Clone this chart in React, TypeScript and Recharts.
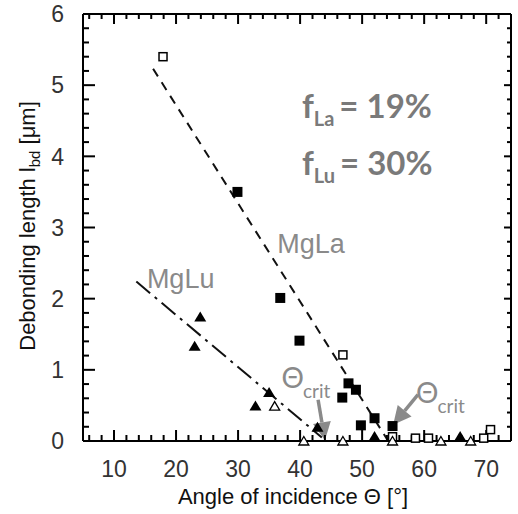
import React from 'react';
import { ScatterChart, Scatter, XAxis, YAxis, ReferenceLine, ReferenceDot } from 'recharts';

// ---- axes ----
const xDomain = [5, 74];
const yDomain = [0, 6];
const xMajorTicks = [10, 20, 30, 40, 50, 60, 70];
const yMajorTicks = [0, 1, 2, 3, 4, 5, 6];
const xMinorTicks = [6, 8, 12, 14, 16, 18, 22, 24, 26, 28, 32, 34, 36, 38, 42, 44, 46, 48, 52, 54, 56, 58, 62, 64, 66, 68, 72, 74];
const yMinorTicks = [0.2, 0.4, 0.6, 0.8, 1.2, 1.4, 1.6, 1.8, 2.2, 2.4, 2.6, 2.8, 3.2, 3.4, 3.6, 3.8, 4.2, 4.4, 4.6, 4.8, 5.2, 5.4, 5.6, 5.8];

// ---- data: MgLa (squares) ----
const mgLaFilled = [
  { x: 29.9, y: 3.5 }, { x: 36.8, y: 2.01 }, { x: 39.9, y: 1.41 },
  { x: 46.8, y: 0.61 }, { x: 47.8, y: 0.81 }, { x: 49.0, y: 0.72 },
  { x: 49.8, y: 0.22 }, { x: 52.0, y: 0.32 }, { x: 54.9, y: 0.21 },
];
const mgLaOpen = [
  { x: 17.9, y: 5.4 }, { x: 46.9, y: 1.21 }, { x: 54.9, y: 0.06 },
  { x: 58.6, y: 0.04 }, { x: 60.7, y: 0.04 }, { x: 69.6, y: 0.04 }, { x: 70.7, y: 0.16 },
];
// ---- data: MgLu (triangles) ----
const mgLuFilled = [
  { x: 23.0, y: 1.34 }, { x: 23.9, y: 1.75 }, { x: 32.8, y: 0.5 },
  { x: 35.0, y: 0.69 }, { x: 42.8, y: 0.2 }, { x: 52.0, y: 0.07 }, { x: 65.8, y: 0.07 },
];
const mgLuOpen = [
  { x: 35.9, y: 0.49 }, { x: 40.6, y: 0 }, { x: 46.9, y: 0 },
  { x: 54.9, y: 0 }, { x: 62.7, y: 0 }, { x: 67.5, y: 0 },
];
// ---- fitted trend lines ----
const mgLaFit = [{ x: 16.3, y: 5.23 }, { x: 54.2, y: 0 }];
const mgLuFit = [{ x: 13.6, y: 2.24 }, { x: 43.5, y: 0.05 }];
// ---- critical-angle arrows ----
const critArrow1 = [{ x: 42.9, y: 0.58 }, { x: 44.0, y: 0.01 }];
const critArrow2 = [{ x: 59.0, y: 0.65 }, { x: 55.0, y: 0.23 }];
// ---- annotation anchors ----
const labelMgLa = { x: 36.3, y: 2.64, text: 'MgLa' };
const labelMgLu = { x: 15.3, y: 2.15, text: 'MgLu' };
const fracLa = { x: 40.3, y: 4.54, sub: 'La', value: '= 19%' };
const fracLu = { x: 40.3, y: 3.74, sub: 'Lu', value: '= 30%' };
const crit1 = { x: 37.0, y: 0.745 };
const crit2 = { x: 58.7, y: 0.534 };

const SANS = '"Liberation Sans", Arial, Helvetica, sans-serif';
const CAL = 'Lato, "Open Sans", sans-serif';
const GRAY = '#8a8a8a';

const W = 518;
const H = 514;
const M = { top: 13, right: 6, bottom: 72, left: 82 };

// tick anchor points on the four frame sides (drawn through the chart scales)
const bottomMajor = xMajorTicks.map((v) => ({ x: v, y: yDomain[0] }));
const bottomMinor = xMinorTicks.map((v) => ({ x: v, y: yDomain[0] }));
const topMajor = xMajorTicks.map((v) => ({ x: v, y: yDomain[1] }));
const topMinor = xMinorTicks.map((v) => ({ x: v, y: yDomain[1] }));
const leftMajor = yMajorTicks.map((v) => ({ x: xDomain[0], y: v }));
const leftMinor = yMinorTicks.map((v) => ({ x: xDomain[0], y: v }));
const rightMajor = yMajorTicks.map((v) => ({ x: xDomain[1], y: v }));
const rightMinor = yMinorTicks.map((v) => ({ x: xDomain[1], y: v }));

const tickMark = (dx: number, dy: number) => (p: any) => (
  <line x1={p.cx} y1={p.cy} x2={p.cx + dx} y2={p.cy + dy} stroke="#000" strokeWidth={2} />
);

const BottomLabel = (p: any) => (
  <text x={p.x} y={p.y + 36} textAnchor="middle" fontSize={23} fill="#333" fontFamily={SANS}>
    {p.payload.value}
  </text>
);
const LeftLabel = (p: any) => (
  <text x={p.x - 19} y={p.y} dy="0.36em" textAnchor="end" fontSize={23} fill="#333" fontFamily={SANS}>
    {p.payload.value}
  </text>
);
const NoTick = () => <g />;

const FilledSquare = (p: any) => <rect x={p.cx - 5} y={p.cy - 5} width={10} height={10} fill="#000" />;
const OpenSquare = (p: any) => (
  <rect x={p.cx - 4} y={p.cy - 4} width={8} height={8} fill="#fff" stroke="#000" strokeWidth={1.5} />
);
const FilledTri = (p: any) => (
  <polygon points={`${p.cx},${p.cy - 5} ${p.cx + 6},${p.cy + 5} ${p.cx - 6},${p.cy + 5}`} fill="#000" />
);
const OpenTri = (p: any) => (
  <polygon
    points={`${p.cx},${p.cy - 4.5} ${p.cx + 5},${p.cy + 4} ${p.cx - 5},${p.cy + 4}`}
    fill="#fff"
    stroke="#000"
    strokeWidth={1.3}
  />
);

const ArrowShape = (p: any) => {
  const { x1, y1, x2, y2 } = p;
  const dx = x2 - x1;
  const dy = y2 - y1;
  const len = Math.sqrt(dx * dx + dy * dy);
  const ux = dx / len;
  const uy = dy / len;
  const hl = 18;
  const hw = 9;
  const bx = x2 - ux * hl;
  const by = y2 - uy * hl;
  return (
    <g>
      <line x1={x1} y1={y1} x2={bx} y2={by} stroke={GRAY} strokeWidth={3.5} />
      <polygon
        points={`${x2},${y2} ${bx - uy * hw},${by + ux * hw} ${bx + uy * hw},${by - ux * hw}`}
        fill={GRAY}
      />
    </g>
  );
};

const critShape = (p: any) => (
  <text x={p.cx} y={p.cy} fill={GRAY} fontFamily={CAL} fontSize={28}>
    Θ
    <tspan fontSize={19} dy={10} dx={-1}>crit</tspan>
  </text>
);

const fracShape = (f: typeof fracLa) => (p: any) => (
  <text x={p.cx} y={p.cy} fill="#7a7a7a" fontFamily={CAL} fontWeight="bold" fontSize={33}>
    f
    <tspan fontSize={20} dy={8}>{f.sub}</tspan>
    <tspan dy={-8} dx={5}>{f.value}</tspan>
  </text>
);

const nameShape = (t: string) => (p: any) => (
  <text x={p.cx} y={p.cy} fill={GRAY} fontFamily={SANS} fontSize={27}>
    {t}
  </text>
);

const axisLine = { stroke: '#000', strokeWidth: 2 };

export default function App() {
  return (
    <div style={{ position: 'absolute', left: 0, top: 0, background: '#fff' }}>
      <ScatterChart width={W} height={H} margin={M}>
        <XAxis type="number" dataKey="x" domain={xDomain} ticks={xMajorTicks} interval={0} tick={BottomLabel}
          tickLine={false} tickSize={0} tickMargin={0} height={1} axisLine={axisLine} />
        <XAxis type="number" xAxisId="top" orientation="top" dataKey="x" domain={xDomain} ticks={xMajorTicks}
          interval={0} tick={NoTick} tickLine={false} tickSize={0} tickMargin={0} height={1} axisLine={axisLine} />
        <YAxis type="number" dataKey="y" domain={yDomain} ticks={yMajorTicks} interval={0} tick={LeftLabel}
          tickLine={false} tickSize={0} tickMargin={0} width={1} axisLine={axisLine} />
        <YAxis type="number" yAxisId="right" orientation="right" dataKey="y" domain={yDomain} ticks={yMajorTicks}
          interval={0} tick={NoTick} tickLine={false} tickSize={0} tickMargin={0} width={1} axisLine={axisLine} />

        <Scatter data={bottomMajor} shape={tickMark(0, -11)} isAnimationActive={false} />
        <Scatter data={bottomMinor} shape={tickMark(0, -6)} isAnimationActive={false} />
        <Scatter data={topMajor} shape={tickMark(0, 10)} isAnimationActive={false} />
        <Scatter data={topMinor} shape={tickMark(0, 5)} isAnimationActive={false} />
        <Scatter data={leftMajor} shape={tickMark(12, 0)} isAnimationActive={false} />
        <Scatter data={leftMinor} shape={tickMark(6, 0)} isAnimationActive={false} />
        <Scatter data={rightMajor} shape={tickMark(-7, 0)} isAnimationActive={false} />
        <Scatter data={rightMinor} shape={tickMark(-4, 0)} isAnimationActive={false} />

        <ReferenceLine segment={mgLaFit} stroke="#111" strokeWidth={2} strokeDasharray="9 7" ifOverflow="visible" />
        <ReferenceLine segment={mgLuFit} stroke="#111" strokeWidth={2} strokeDasharray="18 6 3 6" ifOverflow="visible" />

        <Scatter data={mgLaFilled} shape={FilledSquare} isAnimationActive={false} />
        <Scatter data={mgLaOpen} shape={OpenSquare} isAnimationActive={false} />
        <Scatter data={mgLuFilled} shape={FilledTri} isAnimationActive={false} />
        <Scatter data={mgLuOpen} shape={OpenTri} isAnimationActive={false} />

        <ReferenceLine segment={critArrow1} shape={ArrowShape} ifOverflow="visible" />
        <ReferenceLine segment={critArrow2} shape={ArrowShape} ifOverflow="visible" />

        <ReferenceDot x={labelMgLa.x} y={labelMgLa.y} r={0} shape={nameShape(labelMgLa.text)} />
        <ReferenceDot x={labelMgLu.x} y={labelMgLu.y} r={0} shape={nameShape(labelMgLu.text)} />
        <ReferenceDot x={fracLa.x} y={fracLa.y} r={0} shape={fracShape(fracLa)} />
        <ReferenceDot x={fracLu.x} y={fracLu.y} r={0} shape={fracShape(fracLu)} />
        <ReferenceDot x={crit1.x} y={crit1.y} r={0} shape={critShape} />
        <ReferenceDot x={crit2.x} y={crit2.y} r={0} shape={critShape} />

        <text
          x={35}
          y={226}
          transform="rotate(-90, 35, 226)"
          textAnchor="middle"
          fontSize={22}
          fill="#111"
          fontFamily={SANS}
        >
          Debonding length l<tspan fontSize={15} dy={5}>bd</tspan>
          <tspan dy={-5}> [μm]</tspan>
        </text>
        <text x={293} y={504} textAnchor="middle" fontSize={22} fill="#111" fontFamily={SANS}>
          Angle of incidence Θ [°]
        </text>
      </ScatterChart>
    </div>
  );
}
